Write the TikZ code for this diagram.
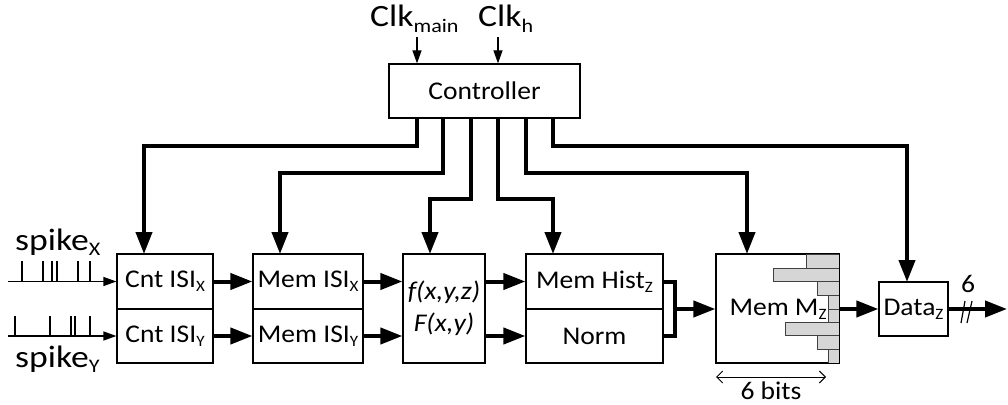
\documentclass[tikz,border=0pt]{standalone}
\usepackage{fontspec}
\setmainfont{Carlito}[FakeStretch=1.08]
\newfontfamily\lblfont{Carlito}[FakeStretch=1.15]
\usetikzlibrary{arrows.meta}
\makeatletter
\newcommand\sbs[1]{\raisebox{-0.17em}{\fontsize{\fpeval{0.62*\f@size}}{1}\selectfont #1}}
\makeatother
\begin{document}
\begin{tikzpicture}[x=1pt,y=-1pt,
  blk/.style={draw, line width=1.2pt, inner sep=0, fill=white,
    font=\fontsize{25.5}{32}\selectfont},
  thk/.style={line width=4pt, -{Triangle[length=22pt,width=16pt]}},
  thkline/.style={line width=4pt},
  thn/.style={line width=1.2pt, -{Triangle[length=13pt,width=9pt]}},
  tick/.style={line width=1.2pt},
  txt/.style={font=\fontsize{25.5}{32}\selectfont, inner sep=0},
  lbl/.style={font=\lblfont\fontsize{31}{38}\selectfont, inner sep=0, anchor=base west},
  bar/.style={fill=black!16, draw=black!75, line width=0.8pt}]

\useasboundingbox (0,0) rectangle (1008,404);

% blocks
\node[blk, minimum width=191, minimum height=54] (ctrl) at (484.5,91) {Controller};
\node[blk, minimum width=96, minimum height=55] (cntx) at (165,281.5) {Cnt ISI\sbs{X}};
\node[blk, minimum width=96, minimum height=54] (cnty) at (165,336) {Cnt ISI\sbs{Y}};
\node[blk, minimum width=110, minimum height=55] (memx) at (308,281.5) {Mem ISI\sbs{X}};
\node[blk, minimum width=110, minimum height=54] (memy) at (308,336) {Mem ISI\sbs{Y}};
\node[blk, minimum width=82, minimum height=109, align=center] (fbox) at (444,308.5) {\itshape f(x,y,z)\\\itshape F(x,y)};
\node[blk, minimum width=137, minimum height=55] (hist) at (594.5,281.5) {Mem Hist\sbs{Z}};
\node[blk, minimum width=137, minimum height=54] (norm) at (594.5,336) {Norm};
\node[blk, minimum width=123, minimum height=109] (mz) at (777.5,308.5) {};
\foreach \w/\ya/\yb in {33/254/268, 66/268/281, 22/281/295, 11/295/309, 11/309/322, 54/322/335, 22/335/349, 11/349/363}
  \draw[bar] ({839-\w},\ya) rectangle (839,\yb);
\draw[line width=1.2pt] (mz.south west) rectangle (mz.north east);
\node[txt] (mzt) at (778,309) {Mem M\sbs{Z}};
\node[blk, minimum width=69, minimum height=54] (data) at (913.5,309) {Data\sbs{Z}};

% clock labels
\node[lbl] (clkm) at (370,27) {Clk\sbs{main}};
\node[lbl] (clkh) at (478,27) {Clk\sbs{h}};
\coordinate (k1) at (417,37);
\coordinate (k2) at (498,37);
\draw[thn] (k1) -- (k1 |- ctrl.north);
\draw[thn] (k2) -- (k2 |- ctrl.north);

% controller outputs
\coordinate (c1) at (417,118); \coordinate (t1) at (144,254);
\coordinate (c2) at (443,118); \coordinate (t2) at (280,254);
\coordinate (c3) at (471,118); \coordinate (t3) at (430,254);
\coordinate (c4) at (498,118); \coordinate (t4) at (553,254);
\coordinate (c5) at (526,118); \coordinate (t5) at (747,254);
\coordinate (c6) at (553,118); \coordinate (t6) at (907,282);
\draw[thk] (c1) -- ++(0,28) -| (t1);
\draw[thk] (c2) -- ++(0,55) -| (t2);
\draw[thk] (c3) -- ++(0,81) -| (t3);
\draw[thk] (c4) -- ++(0,81) -| (t4);
\draw[thk] (c5) -- ++(0,55) -| (t5);
\draw[thk] (c6) -- ++(0,28) -| (t6);

% spike inputs
\node[lbl] (spx) at (15,250) {spike\sbs{X}};
\node[lbl] (spy) at (15,367) {spike\sbs{Y}};
\coordinate (sx) at (8,281.5);
\coordinate (sy) at (8,336);
\draw[thn] (sx) -- (cntx.west);
\draw[thn] (sy) -- (cnty.west);
\foreach \x in {22,43,52,57,78,90} \draw[tick] (\x,281.5) -- (\x,261);
\foreach \x in {15,50,71,75,90} \draw[tick] (\x,336) -- (\x,316);

% data path
\draw[thk] (cntx.east) -- (memx.west);
\draw[thk] (cnty.east) -- (memy.west);
\draw[thk] (memx.east) -- (memx.east -| fbox.west);
\draw[thk] (memy.east) -- (memy.east -| fbox.west);
\draw[thk] (fbox.east |- hist.west) -- (hist.west);
\draw[thk] (fbox.east |- norm.west) -- (norm.west);
\coordinate (mj) at (675,309);
\draw[thkline] (hist.east) -- (hist.east -| mj) -- (norm.east -| mj) -- (norm.east);
\draw[thk] (mj) -- (mj -| mz.west);
\draw[thk] (mz.east |- data.west) -- (data.west);
\coordinate (out) at (1007,309);
\draw[thk] (data.east) -- (out);
\draw[tick] (965,301) -- (961,323);
\draw[tick] (972,301) -- (967,323);
\node[txt] (six) at (968,284) {6};

% bits annotation
\coordinate (b1) at (716,377);
\coordinate (b2) at (826,377);
\draw[line width=1pt, {Straight Barb[length=6pt,width=12pt]}-{Straight Barb[length=6pt,width=12pt]}] (b1) -- (b2);
\node[txt, anchor=base] (bits) at (771,399) {6 bits};
\end{tikzpicture}
\end{document}
